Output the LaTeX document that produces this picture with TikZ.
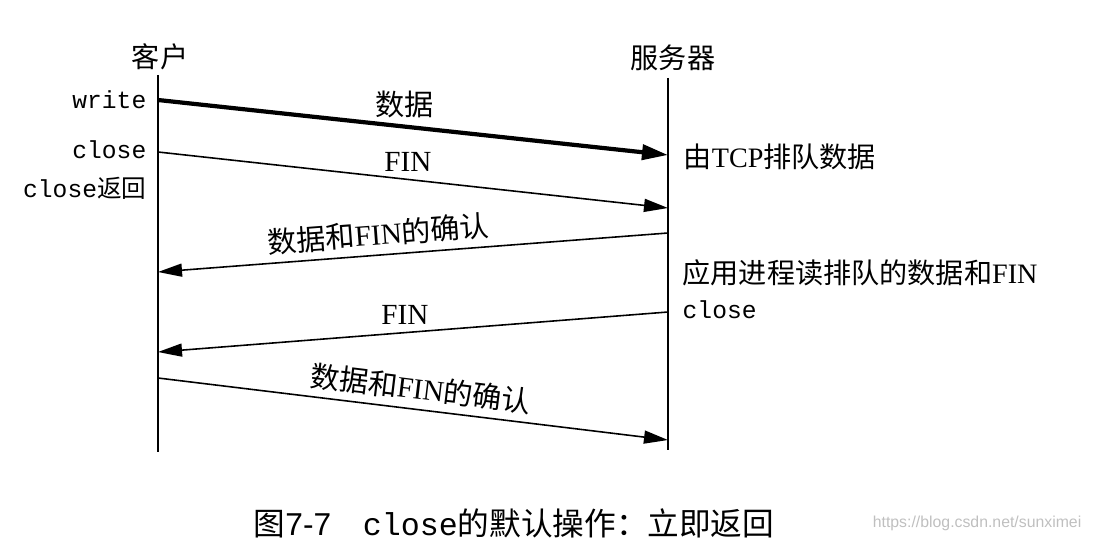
\documentclass[tikz,border=0pt]{standalone}
\usepackage{fontspec}
\setmainfont{Liberation Serif}
\setmonofont{Liberation Mono}
\setsansfont{Liberation Sans}
\newfontfamily\zhfont{Noto Sans CJK SC}
\newcommand{\zh}[1]{{\zhfont #1}}
\usetikzlibrary{arrows.meta, positioning}

\begin{document}
\begin{tikzpicture}[
  x=0.01cm, y=-0.01cm,
  lifeline/.style={line width=0.6pt},
  msg/.style={line width=0.45pt, -{Triangle[length=0.24cm, width=0.13cm]}},
  datamsg/.style={line width=1.2pt, -{Triangle[length=0.26cm, width=0.15cm]}},
  party/.style={font=\fontsize{8}{9}\selectfont},
  call/.style={font=\ttfamily\fontsize{7}{8}\selectfont, anchor=east, inner sep=0pt},
  note/.style={font=\fontsize{8}{9}\selectfont, anchor=west, inner sep=0pt},
  lbl/.style={font=\fontsize{8.3}{9}\selectfont, inner sep=2pt},
  caption/.style={font=\fontsize{9}{10}\selectfont}
]
  \useasboundingbox (0,0) rectangle (1095,558);

  % Kopf: Client und Server
  \node (client) [party] at (160,57) {\zh{客户}};
  \node (server) [party] at (673,58) {\zh{服务器}};

  % Lebenslinien
  \coordinate (ctop) at (158,75);
  \coordinate (cbot) at (158,452);
  \coordinate (stop) at (668,78);
  \coordinate (sbot) at (668,450);
  \draw [lifeline] (ctop) -- (cbot);
  \draw [lifeline] (stop) -- (sbot);

  % Endpunkte der Segmente
  \coordinate (c1) at (158,100); \coordinate (s1) at (668,155);
  \coordinate (c2) at (158,152); \coordinate (s2) at (668,208);
  \coordinate (s3) at (668,233); \coordinate (c3) at (158,272);
  \coordinate (s4) at (668,312); \coordinate (c4) at (158,352);
  \coordinate (c5) at (158,378); \coordinate (s5) at (668,440);

  % Aufrufe beim Client
  \node (write) [call] at (147,100) {write};
  \node (close) [call] at (147,150) {close};
  \node (closeret) [call] at (147,188) {close\zh{返回}};

  % Ereignisse beim Server
  \node (queued) [note] at (683,157) {\zh{由}TCP\zh{排队数据}};
  \node (appread) [note] at (682,273) {\zh{应用进程读排队的数据和}FIN};
  \node (sclose) [note, font=\ttfamily\fontsize{7}{8}\selectfont] at (682,310) {close};

  % Segmente
  \draw [datamsg] (c1) -- node [lbl, above, pos=0.484] {\zh{数据}} (s1);
  \draw [msg] (c2) -- node [lbl, above, pos=0.49] {FIN} (s2);
  \draw [msg] (s3) -- node [lbl, above, sloped, pos=0.565] {\zh{数据和}FIN\zh{的确认}} (c3);
  \draw [msg] (s4) -- node [lbl, above, pos=0.516] {FIN} (c4);
  \draw [msg] (c5) -- node [lbl, above, sloped, pos=0.51] {\zh{数据和}FIN\zh{的确认}} (s5);

  % Bildunterschrift
  \node (cap) [caption] at (514,523) {\zh{图}{\sffamily 7-7}\quad\texttt{close}\zh{的默认操作：立即返回}};
  \node (mark) [font=\sffamily\fontsize{4.5}{5}\selectfont, text=gray!50, anchor=east, inner sep=0pt] at (1082,523) {https://blog.csdn.net/sunximei};

\end{tikzpicture}
\end{document}
